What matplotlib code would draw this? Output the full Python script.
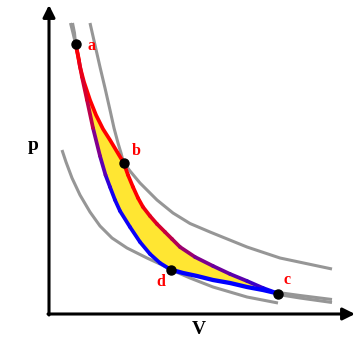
import matplotlib
matplotlib.use('Agg')
import matplotlib.pyplot as plt
import numpy as np
from matplotlib.collections import LineCollection
from matplotlib.colors import LinearSegmentedColormap

plt.rcParams['font.family'] = 'Liberation Serif'

## cycle a-b-c-d, values (arbitrary V, p units)
# -------------------------------------------------------------
V_ab = [26.5, 29, 31, 35, 41, 47, 54, 61, 67, 74.5]
p_ab = [270.5, 259, 247, 232, 214, 199, 185, 174, 164, 151.5]

V_bc = [74.5, 79, 84, 89, 94, 101, 108, 116, 123, 131, 146, 164, 181, 198, 214, 229]
p_bc = [151.5, 139, 127, 116, 107, 98, 90, 82, 75, 67, 57, 48, 40, 33, 26, 20.5]

V_cd = [229, 214, 198, 181, 164, 148, 134, 121.5]
p_cd = [20.5, 24, 27, 31, 34, 38, 41, 44.5]

V_da = [121.5, 111, 101, 91, 81, 71, 66, 61, 56.5, 51, 44, 38, 33, 29.8, 26.5]
p_da = [44.5, 51, 60, 72, 87, 103, 114, 127, 139, 158, 186, 214, 237, 254, 270.5]

# grey extensions of the isotherms / adiabats
V_low = [13, 17, 23, 31, 41, 51, 63, 78, 98, 111, 121.5, 141, 164, 198, 229]
p_low = [164, 152, 136, 119, 102, 88, 76, 66, 56, 50, 44.5, 36, 27, 17, 11]

V_up = [41, 46, 51, 56, 61, 65, 69, 72, 74.5]
p_up = [291, 269, 247, 226, 204, 186, 171, 161, 151.5]

V_hot = [74.5, 81, 91, 108, 124, 141, 161, 198, 231, 283]
p_hot = [151.5, 143, 131, 114, 101, 90.5, 82, 67, 56, 45]

V_top1 = [21.5, 24, 26.5]
V_top2 = [23.5, 25.5, 26.5]
p_top = [291, 281, 270.5]

V_end = [229, 251, 283]
p_end1 = [21.5, 18.5, 14.5]
p_end2 = [19.5, 16, 11.5]

state_V = [26.5, 74.5, 229, 121.5]
state_p = [270.5, 151.5, 20.5, 44.5]
state_names = ['a', 'b', 'c', 'd']
name_pos = [(42, 268), (87, 163), (238, 34), (112, 32)]
# -------------------------------------------------------------


def gradient_line(ax, V, p, cmap, lw):
    pts = np.column_stack([V, p])
    seg = np.stack([pts[:-1], pts[1:]], axis=1)
    L = np.hypot(*np.diff(pts, axis=0).T)
    t = (np.cumsum(L) - L / 2) / L.sum()
    lc = LineCollection(seg, colors=cmap(t), linewidths=lw,
                        capstyle='round', joinstyle='round', zorder=4)
    ax.add_collection(lc)


red2blue = LinearSegmentedColormap.from_list(
    'r2b', [(0, '#ff0000'), (0.2, '#ff0000'), (0.4, '#c8003c'),
            (0.6, '#80008c'), (0.85, '#5000b4'), (1, '#0000ff')])
blue2red = LinearSegmentedColormap.from_list(
    'b2r', [(0, '#0000ff'), (0.4, '#1400f0'), (0.5, '#5a00b4'),
            (0.6, '#800090'), (0.72, '#c00048'), (0.9, '#e8001c'), (1, '#ff0000')])

fig = plt.figure(figsize=(3.6, 3.6), dpi=100)
ax = fig.add_axes([49 / 360, 46 / 360, 306 / 360, 309 / 360])
ax.set_xlim(0, 306)
ax.set_ylim(0, 309)
ax.axis('off')

# yellow area of the cycle
cyc_V = np.concatenate([V_ab, V_bc, V_cd, V_da])
cyc_p = np.concatenate([p_ab, p_bc, p_cd, p_da])
ax.fill(cyc_V, cyc_p, color='#ffe632', lw=0, zorder=2)

grey = dict(color='#969696', lw=2.2, solid_capstyle='butt',
            solid_joinstyle='round', zorder=3)
ax.plot(V_low, p_low, **grey)
ax.plot(V_up, p_up, **grey)
ax.plot(V_hot, p_hot, **grey)
ax.plot(V_top1, p_top, **grey)
ax.plot(V_top2, p_top, **grey)
ax.plot(V_end, p_end1, **grey)
ax.plot(V_end, p_end2, **grey)

lw = 2.7
ax.plot(V_ab, p_ab, color='#ff0000', lw=lw, zorder=4,
        solid_capstyle='round', solid_joinstyle='round')
gradient_line(ax, V_bc, p_bc, red2blue, lw)
ax.plot(V_cd, p_cd, color='#0000ff', lw=lw + 0.4, zorder=4,
        solid_capstyle='round', solid_joinstyle='round')
gradient_line(ax, V_da, p_da, blue2red, lw)

ax.plot(state_V, state_p, 'o', color='black', markersize=6.5, zorder=5)
for s, (x, y) in zip(state_names, name_pos):
    ax.text(x, y, s, color='red', fontsize=11.5, fontweight='bold',
            ha='center', va='center', zorder=6)

# axes with arrow heads
arw = dict(arrowstyle='-|>', color='black', lw=2.2, mutation_scale=18,
           shrinkA=0, shrinkB=0)
ax.annotate('', xy=(306, 0), xytext=(-1, 0), arrowprops=arw, annotation_clip=False)
ax.annotate('', xy=(0, 309), xytext=(0, -1), arrowprops=arw, annotation_clip=False)

ax.text(-16, 169, 'p', fontsize=14, fontweight='bold', ha='center', va='center')
ax.text(150, -16, 'V', fontsize=14, fontweight='bold', ha='center', va='center')

plt.savefig('out.png', dpi=100)
